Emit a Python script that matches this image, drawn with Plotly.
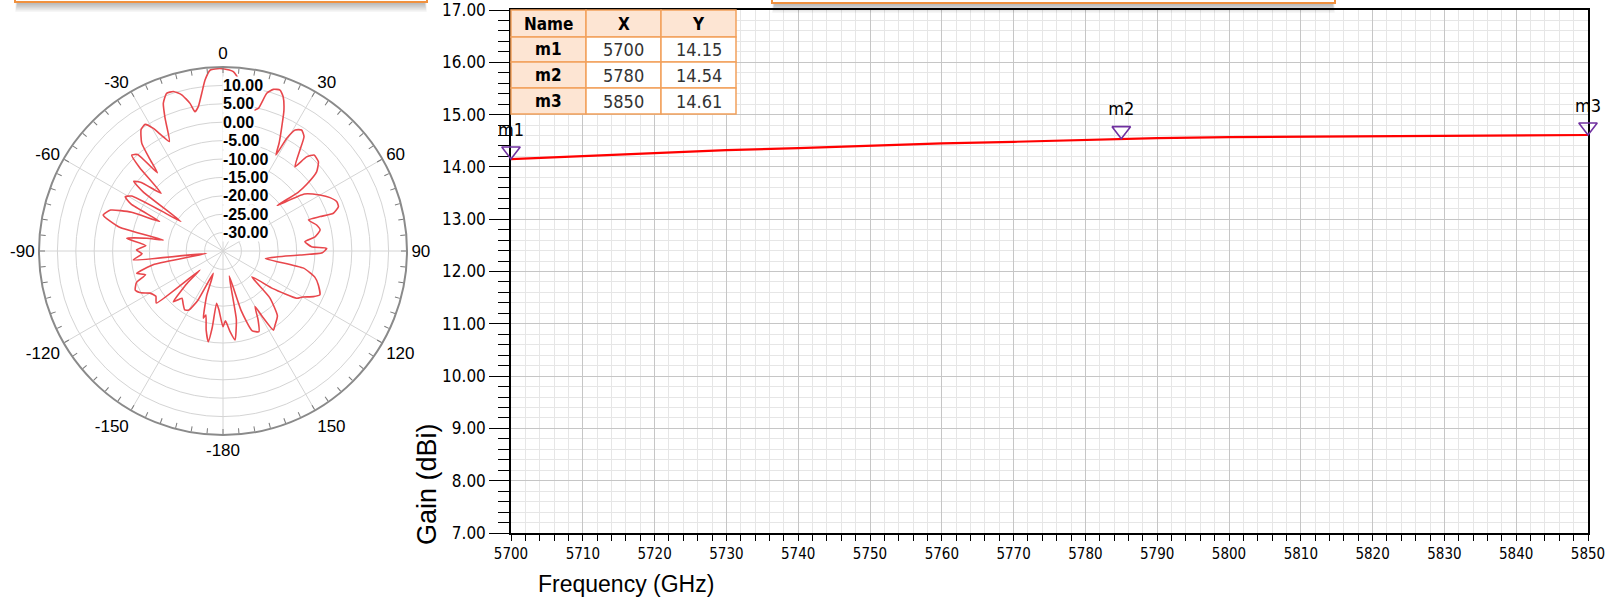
import plotly.graph_objects as go

W, H = 1610, 605

# ---------------- main chart data ----------------
freq = [5700, 5710, 5720, 5730, 5740, 5750, 5760, 5770, 5780, 5790, 5800, 5810, 5820, 5830, 5840, 5850]
gain = [14.15, 14.21, 14.26, 14.32, 14.36, 14.41, 14.45, 14.48, 14.52, 14.55, 14.57, 14.58, 14.58, 14.60, 14.61, 14.61]

marker_names = ["m1", "m2", "m3"]
marker_freq = [5700, 5785, 5850]
marker_gain = [14.15, 14.54, 14.61]

table_header = ["Name", "X", "Y"]
table_x = ["5700", "5780", "5850"]
table_y = ["14.15", "14.54", "14.61"]

x_ticks = list(range(5700, 5851, 10))
y_ticks = [7, 8, 9, 10, 11, 12, 13, 14, 15, 16, 17]

# ---------------- polar pattern data (deg, dB) ----------------
pattern_theta = [-180, -176, -173, -172, -170.8, -168, -165, -163.7, -160, -156.5, -153, -150, -147,
                 -143, -139, -135.6, -132, -129.6, -128, -124, -120, -117, -114, -110, -107, -104.5,
                 -101, -98, -95.7, -92, -89.3, -86, -82.5, -80.5, -79.6, -77, -73.3, -70, -67, -65,
                 -63, -61, -59, -57, -55, -53.5, -52, -50, -47, -45, -43.6, -41.5, -40, -38.5, -37,
                 -34, -31.6, -29.6, -28, -26.1, -23.6, -22, -19.7, -17.3, -14.8, -12.6, -11.4, -9.7,
                 -7.7, -6, -4, -1, 2, 3.3, 6, 9, 11.5, 13.9, 15.5, 17.3, 19.5, 21.3, 23.4, 25.3, 27.5,
                 28.9, 29.5, 30.8, 33, 35.3, 37.3, 40.5, 41.6, 43.5, 46.9, 49.8, 51.5, 52, 50, 55, 60,
                 63.5, 66.6, 69, 71.1, 70.5, 70, 74.5, 77.8, 81.2, 83.5, 87.2, 88.5, 91, 93, 96, 100,
                 102, 106, 109.6, 114.4, 116.8, 120, 122.7, 127, 131.8, 135, 140, 144.9, 147.5, 149,
                 150, 153, 156, 160, 163, 166, 169, 172.3, 175, 178, 180]
pattern_db = [-14.4, -19, -20.7, -14, -10, -13, -17, -16, -22, -28.4, -20, -16.5, -15.9,
              -17, -18, -15.7, -22, -26.9, -12, -13, -12.1, -10, -8.9, -10, -13, -10.8,
              -16, -30.5, -10.5, -13, -11.5, -14, -8.6, -14, -18.5, -6, -1.0, -2.5, -8, -16,
              -7, -4.6, -6, -15, -21, -8, -4.2, -6, -12, -3, 1.0, 0, -7.3, -3, 1.7,
              4.8, 5.4, 3.3, 0.6, -1.9, 4.3, 8.3, 10.5, 10.4, 8.9, 6.1, 3.6, 4.8,
              8.2, 11.7, 14.3, 14.6, 14.2, 13.8, 11, 7.5, 4, 4.9, 9.5, 11, 11.4, 10, 6.7, 2.4, -2,
              -5.2, 0.2, 3.3, 4.2, 3.1, -0.5, -4.9, -0.8, 0.95, 0.5, -1.7, -6, -9.2, -15.8, -8, -4.6,
              -2.5, -1.3, -1.4, -3.3, -7, -10.3, -8.6, -8, -9.7, -12.6, -10.9, -6.8, -8, -14, -20, -23.3,
              -12.6, -9, -7.5, -6.1, -7.5, -10, -11.2, -18, -24.5, -17, -12, -10.4, -9.5, -14,
              -17.6, -14, -11, -12, -18, -28, -16, -10.6, -13, -16, -14.4]

angle_ticks = list(range(0, 360, 5))
angle_label_map = {0: "0", 30: "30", 60: "60", 90: "90", 120: "120", 150: "150", 180: "-180",
                   210: "-150", 240: "-120", 270: "-90", 300: "-60", 330: "-30"}
radial_levels = [10, 5, 0, -5, -10, -15, -20, -25, -30]
radial_min, radial_max = -35, 15

# ---------------- geometry helpers (pixels -> paper) ----------------
def px(x):
    return x / W

def py(y):
    return 1 - y / H

PLOT_L, PLOT_R, PLOT_T, PLOT_B = 511, 1588, 10, 533
PC_X, PC_Y, PR = 223, 251, 184
MARKER_SIZE = 16          # triangle-down: tip lies size/2 px below the marker centre
TIP = MARKER_SIZE / 2

FONT = "Liberation Sans, Arial, sans-serif"
COND = "DejaVu Sans Condensed, Liberation Sans, sans-serif"

fig = go.Figure()

# angular grid lines (every 30 deg)
for a in range(0, 360, 30):
    fig.add_trace(go.Scatterpolar(theta=[a, a], r=[radial_min, radial_max], mode="lines",
                                  line=dict(color="#d4d4d4", width=1), hoverinfo="skip",
                                  showlegend=False, subplot="polar"))

fig.add_trace(go.Scatterpolar(theta=pattern_theta, r=pattern_db, mode="lines",
                              line=dict(color="#e8474c", width=1.6, shape="spline", smoothing=0.5),
                              showlegend=False, subplot="polar"))

fig.add_trace(go.Scatter(x=freq, y=gain, mode="lines", line=dict(color="#ff0000", width=2.2),
                         showlegend=False, xaxis="x", yaxis="y"))

# marker triangles (on twin axes raised so that the triangle tip touches the trace)
fig.add_trace(go.Scatter(x=marker_freq, y=marker_gain, mode="markers+text", text=marker_names,
                         textposition="top center",
                         textfont=dict(size=18, family=COND, color="black"),
                         marker=dict(symbol="triangle-down-open", size=MARKER_SIZE,
                                     color="#7030a0", line=dict(width=1.6, color="#7030a0")),
                         cliponaxis=False, showlegend=False, xaxis="x2", yaxis="y2"))

fig.update_layout(
    width=W, height=H, margin=dict(l=0, r=0, t=0, b=0, pad=0, autoexpand=False),
    paper_bgcolor="white", plot_bgcolor="rgba(0,0,0,0)", showlegend=False,
    font=dict(family=FONT, color="black"),
    xaxis=dict(domain=[px(PLOT_L), px(PLOT_R)], range=[5700, 5850], tickvals=x_ticks,
               ticks="outside", ticklen=6, tickcolor="black", showline=True, linecolor="black",
               linewidth=1.5, mirror=True, showgrid=True, gridcolor="#c6c6c6", gridwidth=1,
               zeroline=False, automargin=False, ticklabeloverflow="allow",
               tickfont=dict(size=15, family=COND, color="black"),
               minor=dict(dtick=2, showgrid=True, gridcolor="#e6e6e6", ticks="outside",
                          ticklen=6, tickcolor="black")),
    yaxis=dict(domain=[py(PLOT_B), py(PLOT_T)], range=[7, 17], tickvals=y_ticks,
               tickformat=".2f", ticks="outside", ticklen=20, tickcolor="black",
               showline=True, linecolor="black", linewidth=1.5, mirror=True, showgrid=True,
               gridcolor="#c6c6c6", zeroline=False, automargin=False, ticklabeloverflow="allow",
               tickfont=dict(size=17, family=COND, color="black"),
               minor=dict(dtick=0.2, showgrid=True, gridcolor="#e6e6e6", ticks="outside",
                          ticklen=11, tickcolor="black")),
    xaxis2=dict(domain=[px(PLOT_L), px(PLOT_R)], range=[5700, 5850], anchor="y2",
                visible=False, automargin=False),
    yaxis2=dict(domain=[py(PLOT_B) + TIP / H, py(PLOT_T) + TIP / H], range=[7, 17],
                anchor="x2", visible=False, automargin=False),
    polar=dict(
        domain=dict(x=[px(PC_X - PR), px(PC_X + PR)], y=[py(PC_Y + PR), py(PC_Y - PR)]),
        bgcolor="white",
        angularaxis=dict(rotation=90, direction="clockwise", tickmode="array",
                         tickvals=angle_ticks,
                         ticktext=[angle_label_map.get(a, "") for a in angle_ticks],
                         ticks="inside", ticklen=5, tickcolor="#7a7a7a", tickwidth=1,
                         showgrid=False, showline=True, linecolor="#8a8a8a", linewidth=2,
                         tickfont=dict(size=17, family=FONT, color="black")),
        radialaxis=dict(range=[radial_min, radial_max], tickvals=radial_levels,
                        showticklabels=False, ticks="", showline=False, showgrid=True,
                        gridcolor="#d4d4d4", gridwidth=1),
    ),
)

shapes = []
# top orange boxes with drop shadow (cut by the top edge of the figure)
for (x0, x1, yb) in [(15, 427, 2), (772, 1335, 3)]:
    for k in range(1, 10):
        shapes.append(dict(type="rect", xref="paper", yref="paper", x0=px(x0 + 3 - k * 0.3),
                           x1=px(x1 - 3 + k * 0.3), y0=py(yb + k * 1.1), y1=py(0),
                           line=dict(width=0), fillcolor="rgba(0,0,0,0.035)", layer="above"))
    shapes.append(dict(type="rect", xref="paper", yref="paper", x0=px(x0), x1=px(x1),
                       y0=py(yb), y1=py(-1), line=dict(color="#f0913f", width=2),
                       fillcolor="white", layer="above"))

# marker table
col_edges = [511, 586, 661, 736]
row_edges = [10, 37, 62, 88, 114]
for r in range(4):
    for c in range(3):
        fill = "#fde5d3" if (r == 0 or c == 0) else "white"
        shapes.append(dict(type="rect", xref="paper", yref="paper",
                           x0=px(col_edges[c]), x1=px(col_edges[c + 1]),
                           y0=py(row_edges[r + 1]), y1=py(row_edges[r]),
                           line=dict(color="#f2a15c", width=1.5), fillcolor=fill, layer="above"))

annotations = []
table_rows = [table_header] + [[n, x, y] for n, x, y in zip(marker_names, table_x, table_y)]
for r, row in enumerate(table_rows):
    for c, val in enumerate(row):
        bold = (r == 0 or c == 0)
        annotations.append(dict(
            xref="paper", yref="paper",
            x=px((col_edges[c] + col_edges[c + 1]) / 2),
            y=py((row_edges[r] + row_edges[r + 1]) / 2),
            text=f"<b>{val}</b>" if bold else val, showarrow=False,
            font=dict(size=17 if bold else 18, family=COND, color="black" if bold else "#333333"),
            xanchor="center", yanchor="middle"))

# axis titles
annotations.append(dict(xref="paper", yref="paper", x=px(626), y=py(584), text="Frequency (GHz)",
                        showarrow=False, font=dict(size=23, family=FONT, color="black"),
                        xanchor="center", yanchor="middle"))
annotations.append(dict(xref="paper", yref="paper", x=px(427), y=py(484), text="Gain (dBi)",
                        textangle=-90, showarrow=False,
                        font=dict(size=27, family=FONT, color="black"),
                        xanchor="center", yanchor="middle"))

# radial level labels on the 0-degree spoke
scale = PR / (radial_max - radial_min)
for v in radial_levels:
    annotations.append(dict(xref="paper", yref="paper", x=px(PC_X - 1),
                            y=py(PC_Y - (v - radial_min) * scale),
                            text=f"<b>{v:.2f}</b>", showarrow=False, bgcolor="white",
                            font=dict(size=16, family=FONT, color="black"),
                            xanchor="left", yanchor="middle", borderpad=0))

fig.update_layout(shapes=shapes, annotations=annotations)
fig.write_html("out.html", config={"displayModeBar": False},
               post_script="document.body.style.margin='0px';"
                           "document.body.style.overflow='hidden';"
                           "document.documentElement.style.overflow='hidden';")
